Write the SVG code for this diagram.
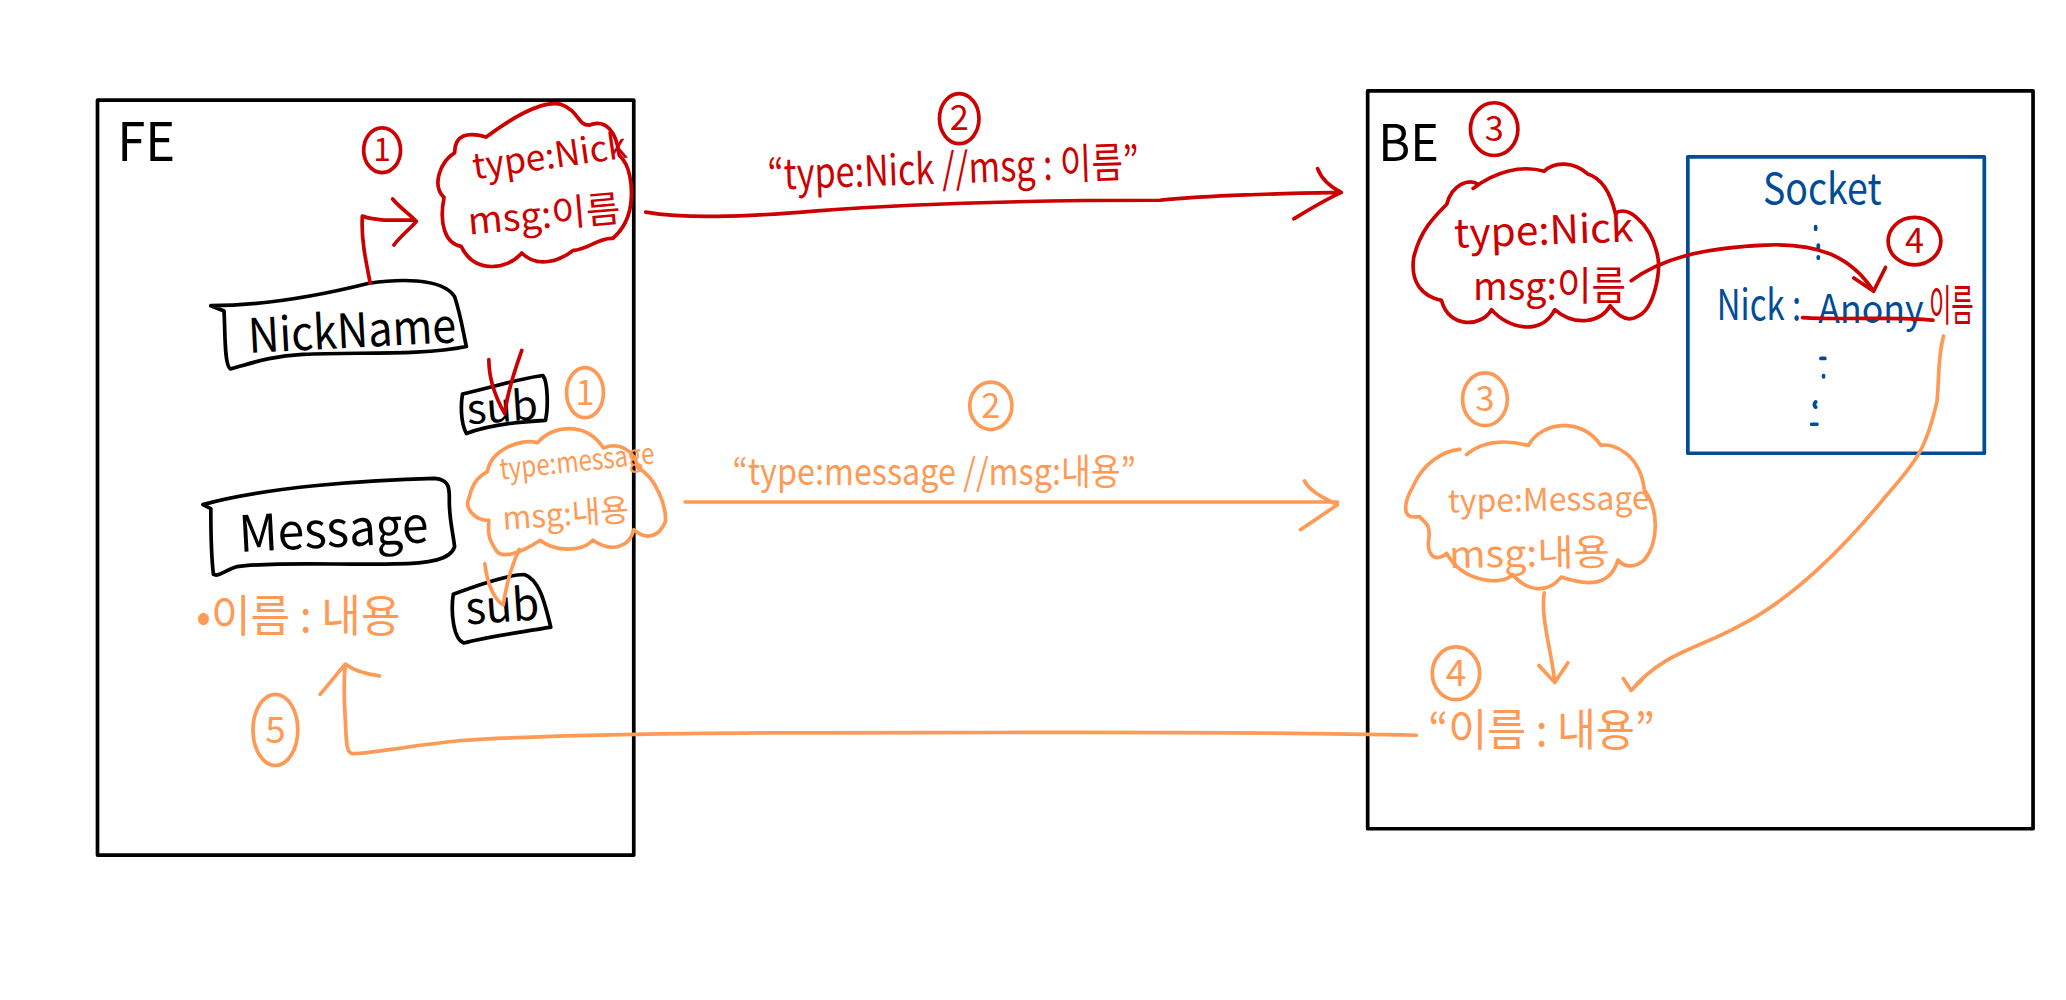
<svg xmlns="http://www.w3.org/2000/svg" width="2066" height="1000" viewBox="0 0 2066 1000">
<style>
path,ellipse,rect{fill:none;stroke-linecap:round;stroke-linejoin:round;stroke-width:2.8}
.k{stroke:#000}.r{stroke:#cc0000}.o{stroke:#ff9a56}.b{stroke:#004c99}
text{font-family:"Noto Sans CJK KR","Noto Sans",sans-serif;stroke:none}
.tk{fill:#000}.tr{fill:#cc0000}.to{fill:#ff9a56}.tb{fill:#004c99}
</style>
<rect width="2066" height="1000" fill="#fff" style="fill:#fff;stroke:none"/>
<g transform="scale(1.3176)">
<g id="fe">
<rect class="k" x="74" y="76" width="407" height="573"/>
<text class="tk" x="89" y="122" font-size="40" textLength="44" lengthAdjust="spacingAndGlyphs">FE</text>
</g>
<g id="be">
<rect class="k" x="1038" y="69" width="505" height="560"/>
<text class="tk" x="1046" y="122" font-size="38" textLength="46" lengthAdjust="spacingAndGlyphs">BE</text>
</g>
<g id="nickname-input">
<path class="k" d="M160,232C200,232 240,225 280,215C300,212 335,210 345,225C350,240 352,255 354,263C320,270 270,267 230,269C205,270 190,276 175,280C170,278 171,250 170,236L160,232Z"/>
<text class="tk" x="189" y="268" font-size="36" textLength="158" lengthAdjust="spacingAndGlyphs" transform="rotate(-3 189 268)">NickName</text>
</g>
<g id="sub-nick">
<path class="k" d="M351,299C370,295 395,287 412,285C416,290 416,310 414,319C395,320 370,323 354,329C349,320 350,305 351,299Z"/>
<text class="tk" x="355" y="322" font-size="31" textLength="54" lengthAdjust="spacingAndGlyphs" transform="rotate(-4 355 322)">sub</text>
<path class="r" d="M371,273C371,290 378,305 383,314C385,298 391,280 396,266"/>
</g>
<g id="message-input">
<path class="k" d="M154,383C200,370 280,364 330,363C342,364 341,372 341,380C341,395 344,405 345,415C342,425 325,428 300,428C260,429 210,426 180,430C170,433 166,438 162,436C160,420 160,400 160,386L154,383Z"/>
<text class="tk" x="182" y="419" font-size="38" textLength="144" lengthAdjust="spacingAndGlyphs" transform="rotate(-3 182 419)">Message</text>
</g>
<g id="sub-message">
<path class="k" d="M344,451C360,445 385,436 398,436C410,440 414,460 418,476C395,480 370,483 352,488C344,485 342,465 344,451Z"/>
<text class="tk" x="354" y="474" font-size="34" textLength="56" lengthAdjust="spacingAndGlyphs" transform="rotate(-4 354 474)">sub</text>
</g>
<g id="cloud-nick-fe">
<path class="r" d="M369,104C385,92 410,76 425,79C440,84 438,95 447,95C460,90 468,100 470,118C478,125 480,140 479,152C478,165 472,175 465,181C455,180 445,190 435,190C425,198 408,204 396,192C385,205 360,208 350,187C338,185 333,170 337,150C327,140 335,122 345,116C345,102 355,100 369,104"/>
<text class="tr" x="360" y="136" font-size="27" textLength="118" lengthAdjust="spacingAndGlyphs" transform="rotate(-8 360 136)">type:Nick</text>
<text class="tr" x="356" y="178" font-size="28" textLength="116" lengthAdjust="spacingAndGlyphs" transform="rotate(-5 356 178)">msg:이름</text>
</g>
<g id="cloud-message-fe">
<path class="o" d="M370,358C372,342 395,332 408,336C420,322 445,320 458,340C470,335 482,342 484,355C498,362 506,385 505,396C500,408 490,410 481,402C478,415 465,420 450,410C440,420 420,418 410,410C395,420 380,425 376,417C372,410 370,408 371,395C360,395 352,385 356,378C358,368 362,362 370,358Z"/>
<text class="to" x="380" y="364" font-size="22" textLength="118" lengthAdjust="spacingAndGlyphs" transform="rotate(-6 380 364)">type:message</text>
<text class="to" x="382" y="402" font-size="24" textLength="96" lengthAdjust="spacingAndGlyphs" transform="rotate(-4 382 402)">msg:내용</text>
</g>
<g id="cloud-nick-be">
<path class="r" d="M1118,143C1135,130 1155,125 1172,130C1180,122 1195,123 1205,132C1215,135 1222,145 1226,162C1235,155 1252,170 1257,190C1262,205 1255,235 1243,240C1235,245 1228,240 1222,232C1215,245 1195,248 1180,235C1170,255 1145,250 1132,235C1125,248 1100,250 1094,228C1080,225 1070,215 1073,195C1078,175 1088,165 1098,155C1102,140 1115,135 1122,140"/>
<text class="tr" x="1104" y="188" font-size="30" textLength="136" lengthAdjust="spacingAndGlyphs" transform="rotate(-2 1104 188)">type:Nick</text>
<text class="tr" x="1118" y="228" font-size="30" textLength="116" lengthAdjust="spacingAndGlyphs">msg:이름</text>
</g>
<g id="cloud-message-be">
<path class="o" d="M1113,345C1125,335 1140,333 1160,338C1170,320 1200,316 1215,338C1225,336 1245,345 1248,372C1258,385 1260,410 1248,425C1240,432 1232,430 1228,425C1222,445 1205,445 1185,438C1175,450 1160,450 1148,436C1140,445 1110,442 1098,420C1092,425 1084,425 1084,412C1086,400 1084,398 1077,392C1062,395 1066,380 1073,368C1080,352 1095,342 1108,341"/>
<text class="to" x="1099" y="389" font-size="24" textLength="153" lengthAdjust="spacingAndGlyphs" transform="rotate(-1 1099 389)">type:Message</text>
<text class="to" x="1100" y="431" font-size="28" textLength="122" lengthAdjust="spacingAndGlyphs" transform="rotate(-1 1100 431)">msg:내용</text>
</g>
<g id="socket">
<rect class="b" x="1281" y="119" width="225" height="225"/>
<text class="tb" x="1338" y="155" font-size="32" textLength="90" lengthAdjust="spacingAndGlyphs">Socket</text>
<path class="b" d="M1378,172v2M1380,186v3M1380,195v1M1382,272h3M1384,285v1M1378,305q-2,2 0,4M1375,322h4"/>
<text class="tb" x="1303" y="243" font-size="32" textLength="64" lengthAdjust="spacingAndGlyphs">Nick :</text>
<text class="tb" x="1380" y="245" font-size="30" textLength="80" lengthAdjust="spacingAndGlyphs">Anony</text>
<path class="r" d="M1368,241C1400,243 1440,240 1467,243"/>
<text class="tr" x="1464" y="244" font-size="33" textLength="34" lengthAdjust="spacingAndGlyphs">이름</text>
</g>
<g id="labels">
<ellipse class="r" cx="290" cy="114" rx="14" ry="17"/><text class="tr" x="290" y="122" font-size="24" text-anchor="middle">1</text>
<ellipse class="o" cx="444" cy="298" rx="14" ry="19"/><text class="to" x="444" y="307" font-size="26" text-anchor="middle">1</text>
<ellipse class="r" cx="728" cy="90" rx="15" ry="19"/><text class="tr" x="728" y="99" font-size="26" text-anchor="middle">2</text>
<ellipse class="o" cx="752" cy="308" rx="16" ry="18"/><text class="to" x="752" y="317" font-size="26" text-anchor="middle">2</text>
<ellipse class="r" cx="1134" cy="98" rx="18" ry="20"/><text class="tr" x="1134" y="107" font-size="26" text-anchor="middle">3</text>
<ellipse class="o" cx="1127" cy="303" rx="17" ry="20"/><text class="to" x="1127" y="312" font-size="26" text-anchor="middle">3</text>
<ellipse class="r" cx="1453" cy="183" rx="20" ry="18"/><text class="tr" x="1453" y="192" font-size="26" text-anchor="middle">4</text>
<ellipse class="o" cx="1105" cy="511" rx="18" ry="20"/><text class="to" x="1105" y="521" font-size="28" text-anchor="middle">4</text>
<ellipse class="o" cx="209" cy="554" rx="17" ry="27"/><text class="to" x="209" y="564" font-size="28" text-anchor="middle">5</text>
<text class="tr" x="583" y="144" font-size="32" textLength="282" lengthAdjust="spacingAndGlyphs" transform="rotate(-2 583 144)">“type:Nick //msg : 이름”</text>
<text class="to" x="556" y="368" font-size="28" textLength="306" lengthAdjust="spacingAndGlyphs">“type:message //msg:내용”</text>
<text class="to" x="149" y="480" font-size="34" textLength="155" lengthAdjust="spacingAndGlyphs">•이름 : 내용</text>
<text class="to" x="1084" y="566" font-size="34" textLength="172" lengthAdjust="spacingAndGlyphs">“이름 : 내용”</text>
</g>
<g id="connectors">
<path class="r" d="M281,215C277,195 274,180 275,164C285,168 300,167 314,167M298,151C304,158 310,162 316,168C311,174 303,180 299,186"/>
<path class="r" d="M490,161C520,166 560,165 620,160C700,154 780,152 880,152C920,148 970,147 1018,146M1000,128C1003,136 1010,142 1018,146C1005,152 992,160 982,166"/>
<path class="o" d="M520,381H1015M990,365C994,373 1005,378 1015,383C1005,390 996,396 987,402"/>
<path class="r" d="M1238,213C1260,197 1290,188 1340,186C1380,184 1405,195 1422,221M1407,211L1422,221L1431,203"/>
<path class="o" d="M1475,255C1470,275 1472,290 1470,305C1462,340 1455,350 1430,378C1400,415 1360,455 1320,475C1290,492 1262,495 1238,524M1232,515L1238,524L1246,516"/>
<path class="o" d="M1172,450C1169,470 1178,495 1180,518M1168,505L1180,518L1190,503"/>
<path class="o" d="M1075,558C950,555 800,556 700,556C600,556 440,556 350,562C310,566 280,572 268,572C262,572 263,560 262,545C261,530 261,515 262,504M243,527L262,504C270,510 280,512 288,513"/>
<path class="o" d="M368,428C370,445 376,456 382,459C384,445 388,430 394,417"/>
</g>
</g>
</svg>
